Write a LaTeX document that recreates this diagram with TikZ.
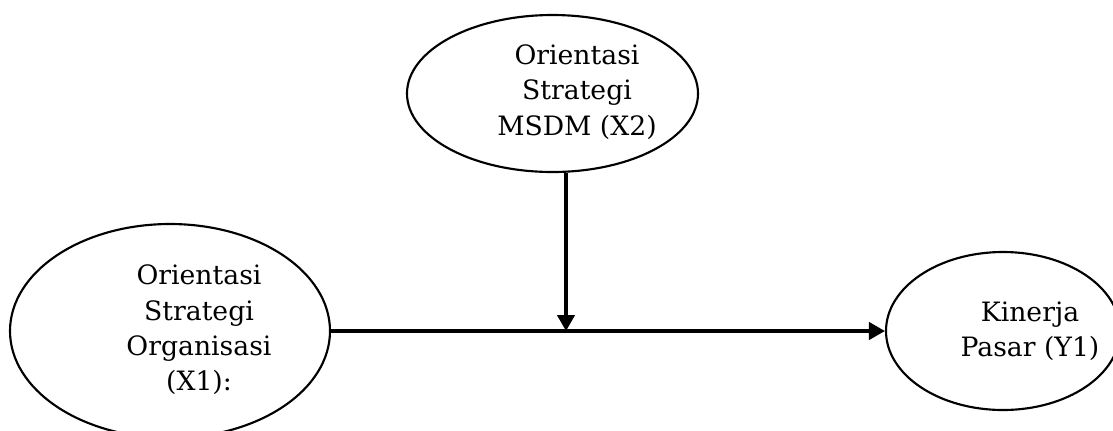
\documentclass[tikz,border=0pt]{standalone}
\usepackage{fontspec}
\setmainfont{DejaVu Serif}
\usetikzlibrary{shapes.geometric,arrows.meta}
\tikzset{
  var/.style={draw=black, ellipse, line width=1.6pt, inner sep=0pt},
  lbl/.style={align=center, font=\fontsize{20}{26.5}\selectfont, inner sep=0pt},
  path/.style={draw=black, line width=2.4pt, -{Triangle[length=12pt,width=13pt]}}
}
\begin{document}
\begin{tikzpicture}[x=0.75pt,y=-0.75pt]
\useasboundingbox (0,0) rectangle (1113,430);
\clip (0,0) rectangle (1113,430);
\node[var, minimum width=218.25pt, minimum height=117.75pt] (x2) at (552.5,93.5) {};
\node[var, minimum width=240pt, minimum height=160.5pt] (x1) at (170,331) {};
\node[var, minimum width=175.5pt, minimum height=118.5pt] (y1) at (1003,331) {};
\node[lbl] (tx2) at (577,92) {Orientasi\\Strategi\\MSDM (X2)};
\node[lbl] (tx1) at (199,330) {Orientasi\\Strategi\\Organisasi\\(X1):};
\node[lbl] (ty1) at (1030,331) {Kinerja\\Pasar (Y1)};
\coordinate (jn) at (566,331);
\draw[path] (x1.east) -- (y1.west);
\draw[path] (jn |- x2.south) -- (jn);
\end{tikzpicture}
\end{document}
